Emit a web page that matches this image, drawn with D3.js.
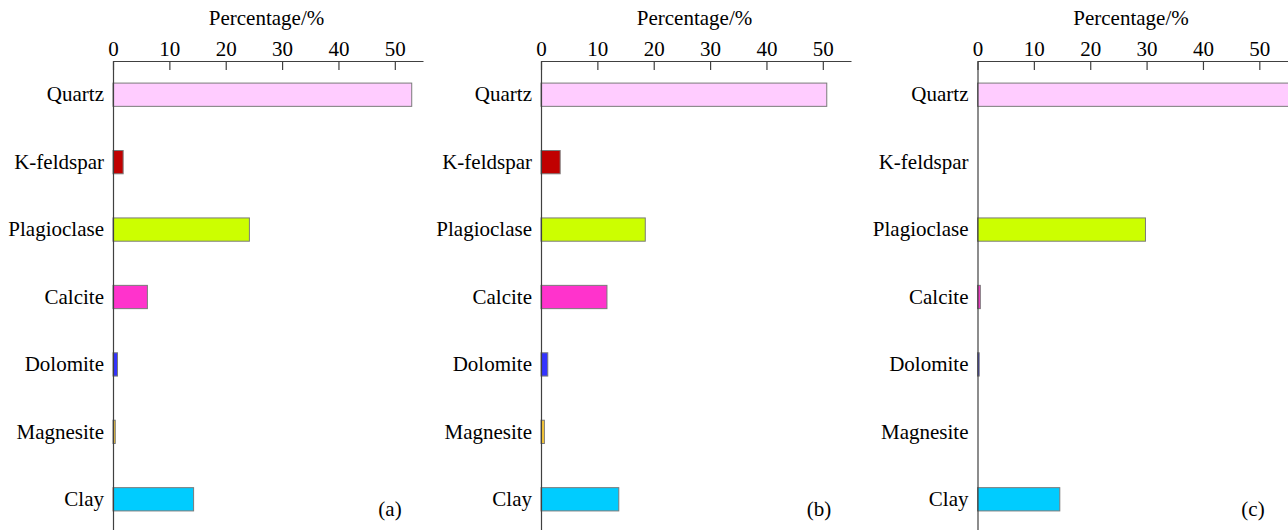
<!DOCTYPE html>
<html>
<head>
<meta charset="utf-8">
<script src="https://cdn.jsdelivr.net/npm/d3@7"></script>
<style>
  html, body { margin: 0; padding: 0; background: #fff; overflow: hidden; }
  svg { display: block; }
</style>
</head>
<body>
<svg id="chart" width="1288" height="530"></svg>
<script>
// Mineral categories, top to bottom
const minerals = ["Quartz", "K-feldspar", "Plagioclase", "Calcite", "Dolomite", "Magnesite", "Clay"];
const mineralColors = ["#FFCCFF", "#C00000", "#CCFF00", "#FF33CC", "#3333FF", "#FFCC33", "#00CCFF"];

// Mineral content (%) for the three samples
const sampleA = [53.0, 1.8, 24.2, 6.1, 0.8, 0.4, 14.3];
const sampleB = [50.7, 3.4, 18.5, 11.7, 1.2, 0.6, 13.8];
const sampleC = [55.3, 0, 29.8, 0.5, 0.3, 0, 14.6];

const panelLabels = ["(a)", "(b)", "(c)"];
const xTicks = [0, 10, 20, 30, 40, 50];
const xTitle = "Percentage/%";

const FONT = "Liberation Serif";
const FONT_SIZE = "21px";

const svg = d3.select("#chart");

const panels = [
  { data: sampleA, left: 113, label: panelLabels[0], labelX: 390 },
  { data: sampleB, left: 541, label: panelLabels[1], labelX: 819 },
  { data: sampleC, left: 977.5, label: panelLabels[2], labelX: 1253 }
];

const plotTop = 61, plotBottom = 533, plotW = 310;

const y = d3.scaleBand().domain(minerals).range([plotTop, plotBottom]).paddingInner(0.655).paddingOuter(0.3275);

function styleText(sel) {
  sel.attr("font-family", FONT)
    .style("font-family", FONT)
    .style("font-size", FONT_SIZE)
    .attr("fill", "#000");
}

panels.forEach(p => {
  const x = d3.scaleLinear().domain([0, 55]).range([p.left, p.left + plotW]);
  const g = svg.append("g");

  // bars
  g.selectAll("rect.bar")
    .data(minerals.map((m, i) => ({ m, v: p.data[i], c: mineralColors[i] })).filter(d => d.v > 0))
    .join("rect")
    .attr("class", "bar")
    .attr("x", x(0))
    .attr("y", d => y(d.m))
    .attr("width", d => x(d.v) - x(0))
    .attr("height", y.bandwidth())
    .attr("fill", d => d.c)
    .attr("stroke", "#7a7a7a")
    .attr("stroke-width", 1);

  // top value axis, ticks pointing into the plot
  const xAxis = d3.axisTop(x).tickValues(xTicks).tickSizeInner(-9).tickSizeOuter(0).tickPadding(5);
  const gx = g.append("g").attr("transform", `translate(0,${plotTop})`).call(xAxis);
  gx.attr("font-family", FONT).attr("font-size", 21);
  gx.selectAll("path, line").attr("stroke", "#404040").attr("stroke-width", 1.2);
  gx.selectAll("text").call(styleText);

  // left category axis
  const yAxis = d3.axisLeft(y).tickSize(0).tickPadding(9);
  const gy = g.append("g").attr("transform", `translate(${p.left},0)`).call(yAxis);
  gy.attr("font-family", FONT).attr("font-size", 21);
  gy.select("path").attr("stroke", "#404040").attr("stroke-width", 1.2);
  gy.selectAll("text").call(styleText);

  // axis title
  g.append("text")
    .attr("x", x(27.5) - 1.5)
    .attr("y", 25)
    .attr("text-anchor", "middle")
    .call(styleText)
    .text(xTitle);

  // panel label
  g.append("text")
    .attr("x", p.labelX)
    .attr("y", 516)
    .attr("text-anchor", "middle")
    .call(styleText)
    .text(p.label);
});
</script>
</body>
</html>
